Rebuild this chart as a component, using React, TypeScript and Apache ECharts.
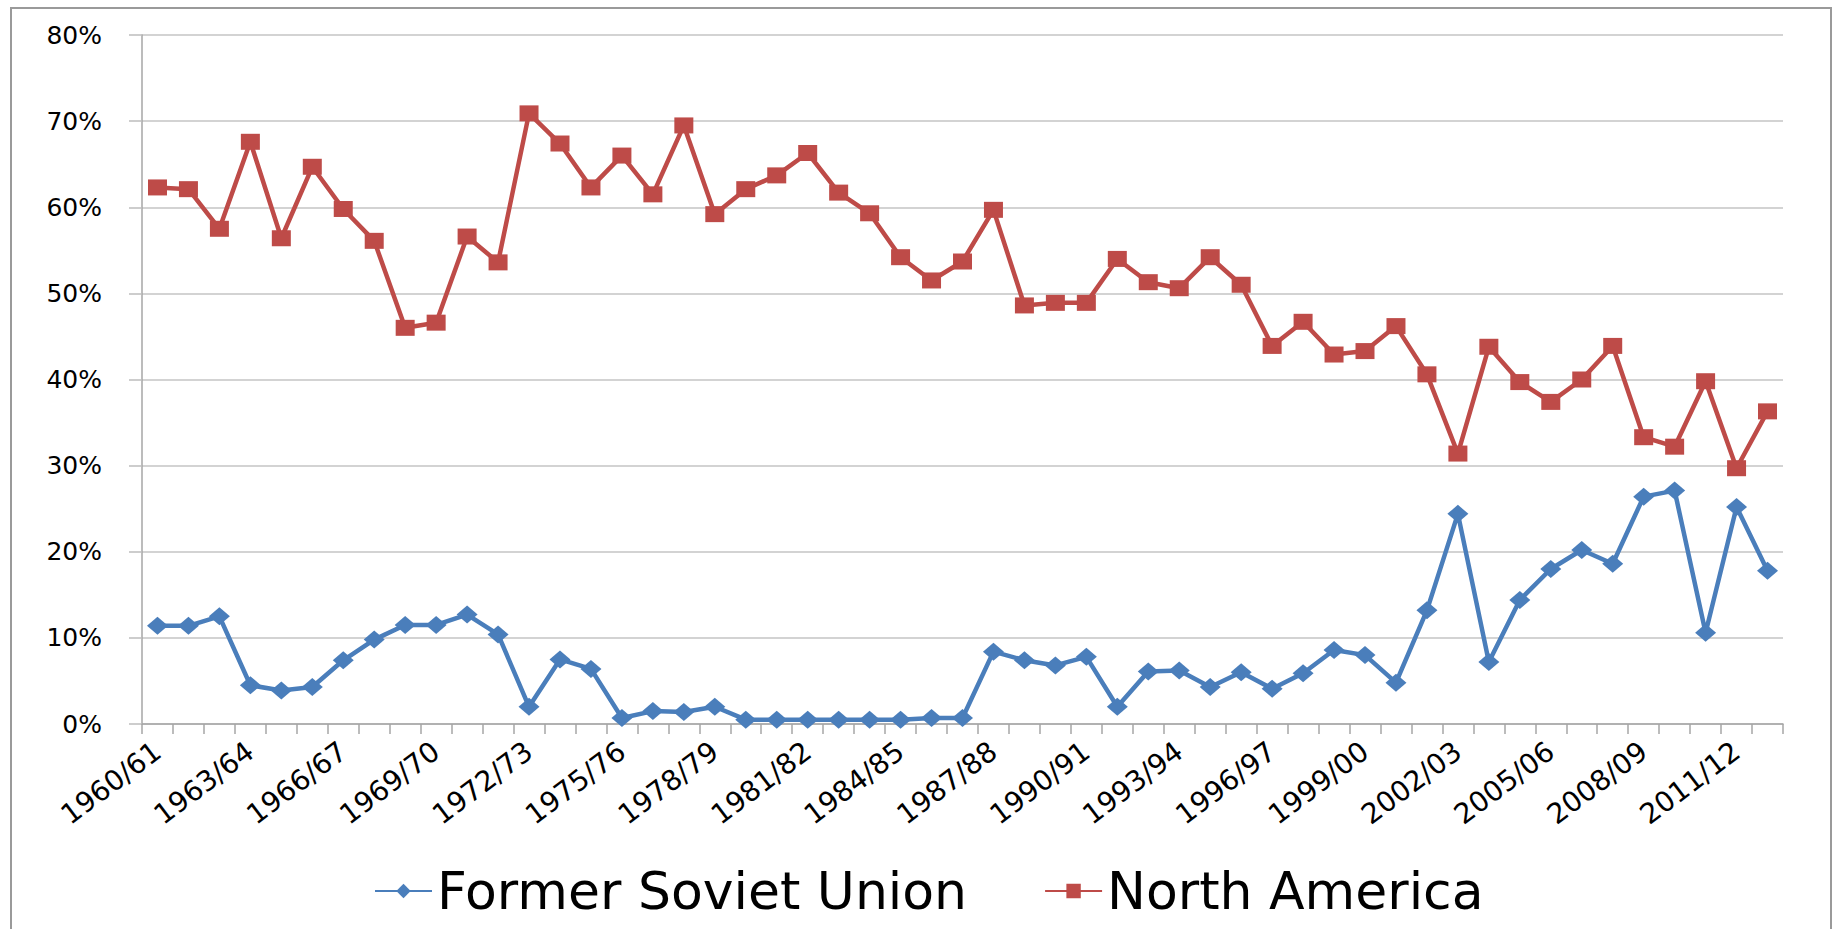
import React, { useEffect, useRef } from "react";
import * as echarts from "echarts";

const categories: string[] = [
  "1960/61", "1961/62", "1962/63", "1963/64", "1964/65", "1965/66", "1966/67", "1967/68",
  "1968/69", "1969/70", "1970/71", "1971/72", "1972/73", "1973/74", "1974/75", "1975/76",
  "1976/77", "1977/78", "1978/79", "1979/80", "1980/81", "1981/82", "1982/83", "1983/84",
  "1984/85", "1985/86", "1986/87", "1987/88", "1988/89", "1989/90", "1990/91", "1991/92",
  "1992/93", "1993/94", "1994/95", "1995/96", "1996/97", "1997/98", "1998/99", "1999/00",
  "2000/01", "2001/02", "2002/03", "2003/04", "2004/05", "2005/06", "2006/07", "2007/08",
  "2008/09", "2009/10", "2010/11", "2011/12", "2012/13",
];

const formerSovietUnion: number[] = [
  11.4, 11.4, 12.5, 4.5, 3.9, 4.3, 7.4, 9.8, 11.5, 11.5, 12.7, 10.4, 2.0, 7.5, 6.4, 0.7,
  1.5, 1.4, 2.0, 0.5, 0.5, 0.5, 0.5, 0.5, 0.5, 0.7, 0.7, 8.4, 7.4, 6.8, 7.8, 2.0,
  6.1, 6.2, 4.3, 6.0, 4.1, 5.9, 8.6, 8.0, 4.8, 13.2, 24.4, 7.2, 14.4, 18.0, 20.2, 18.6,
  26.4, 27.1, 10.6, 25.2, 17.8,
];

const northAmerica: number[] = [
  62.3, 62.1, 57.5, 67.6, 56.4, 64.7, 59.8, 56.1, 46.0, 46.6, 56.6, 53.6, 70.9, 67.4, 62.3, 66.0,
  61.5, 69.5, 59.2, 62.1, 63.7, 66.3, 61.7, 59.3, 54.2, 51.5, 53.7, 59.7, 48.6, 48.9, 48.9, 54.0,
  51.3, 50.6, 54.2, 51.0, 43.9, 46.7, 42.9, 43.3, 46.2, 40.6, 31.4, 43.8, 39.7, 37.4, 40.0, 43.9,
  33.3, 32.2, 39.8, 29.7, 36.3,
];

const yTicks = { min: 0, max: 80, step: 10 };

const FONT = "DejaVu Sans";
const BLUE = "#4A7EBB";
const RED = "#BE4B48";

export default function App() {
  const ref = useRef<HTMLDivElement>(null);

  useEffect(() => {
    if (!ref.current) return;
    const chart = echarts.init(ref.current, null, { renderer: "svg" });
    chart.setOption({
      animation: false,
      backgroundColor: "#ffffff",
      graphic: [
        {
          type: "rect",
          shape: { x: 11, y: 8, width: 1820, height: 960 },
          style: { fill: "none", stroke: "#9a9a9a", lineWidth: 2 },
          silent: true,
        },
      ],
      grid: { left: 142, right: 52, top: 35, bottom: 205, containLabel: false },
      legend: {
        left: 369,
        top: 860,
        itemWidth: 57,
        itemHeight: 18,
        itemGap: 77,
        textStyle: { fontFamily: FONT, fontSize: 52, color: "#000" },
        data: ["Former Soviet Union", "North America"],
      },
      xAxis: {
        type: "category",
        data: categories,
        boundaryGap: true,
        axisLine: { show: true, lineStyle: { color: "#a6a6a6", width: 1.5 } },
        axisTick: { show: true, interval: 0, length: 10, lineStyle: { color: "#a6a6a6", width: 1.5 } },
        axisLabel: {
          interval: 2,
          rotate: 37,
          margin: 24,
          fontFamily: FONT,
          fontSize: 28,
          color: "#000",
        },
        splitLine: { show: false },
      },
      yAxis: {
        type: "value",
        min: yTicks.min,
        max: yTicks.max,
        interval: yTicks.step,
        axisLine: { show: true, lineStyle: { color: "#a6a6a6", width: 1.5 } },
        axisTick: { show: true, length: 13, lineStyle: { color: "#bdbdbd", width: 1.5 } },
        axisLabel: {
          formatter: "{value}%",
          margin: 40,
          fontFamily: FONT,
          fontSize: 25,
          color: "#000",
        },
        splitLine: { show: true, lineStyle: { color: "#c4c4c4", width: 1.5 } },
      },
      series: [
        {
          name: "Former Soviet Union",
          type: "line",
          data: formerSovietUnion,
          symbol: "diamond",
          symbolSize: [21, 18],
          lineStyle: { color: BLUE, width: 4.5 },
          itemStyle: { color: BLUE },
        },
        {
          name: "North America",
          type: "line",
          data: northAmerica,
          symbol: "rect",
          symbolSize: [19, 16],
          lineStyle: { color: RED, width: 4.5 },
          itemStyle: { color: RED },
        },
      ],
    });
    return () => chart.dispose();
  }, []);

  return (
    <div
      ref={ref}
      style={{ position: "fixed", left: 0, top: 0, width: 1835, height: 929 }}
    />
  );
}
